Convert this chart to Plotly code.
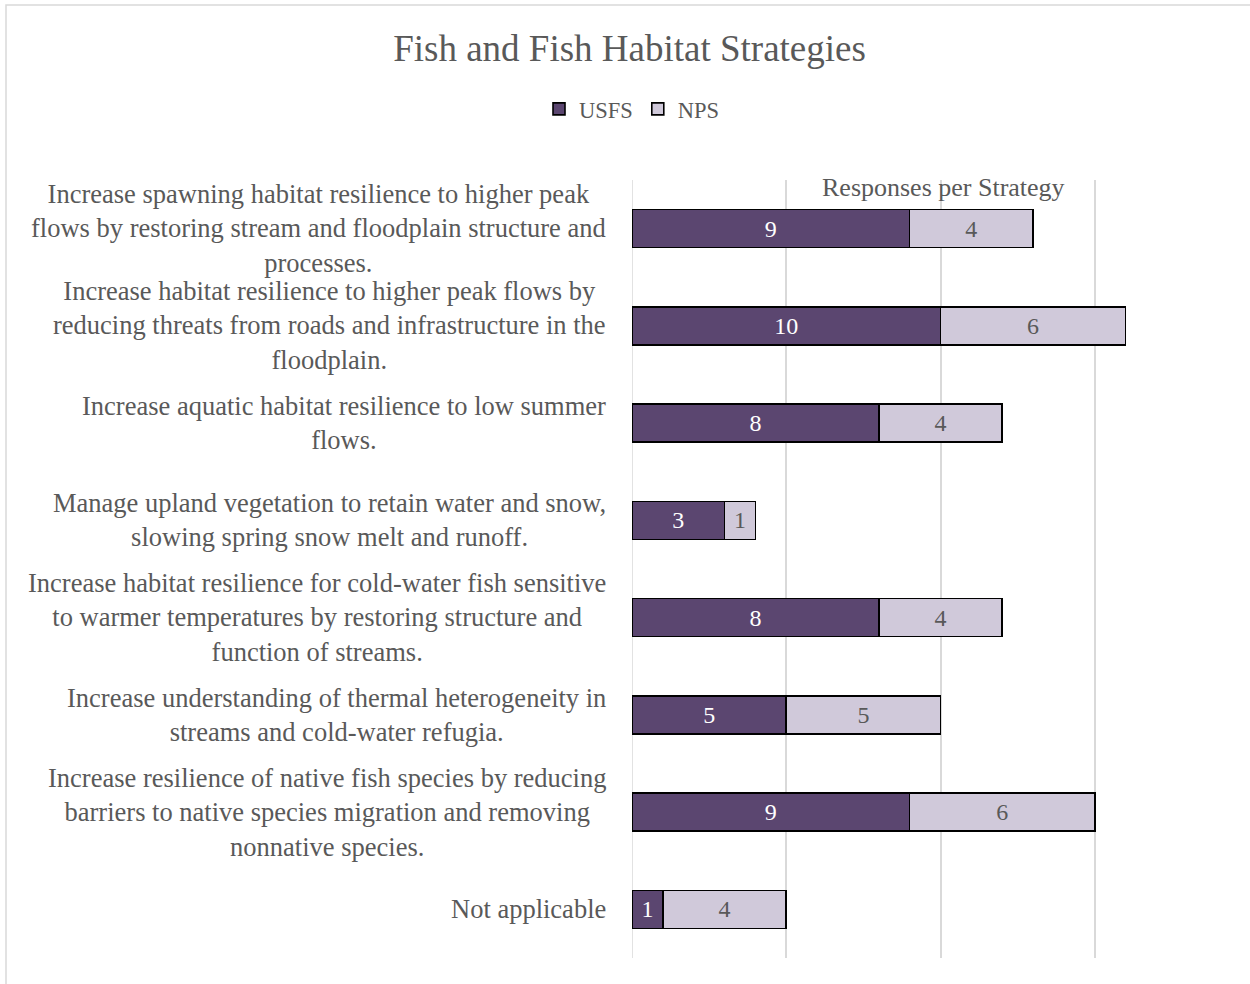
import plotly.graph_objects as go

# Strategy labels (top to bottom) and response counts per agency
strategies = [
    "Increase spawning habitat resilience to higher peak<br>flows by restoring stream and floodplain structure and<br>processes.",
    "Increase habitat resilience to higher peak flows by<br>reducing threats from roads and infrastructure in the<br>floodplain.",
    "Increase aquatic habitat resilience to low summer<br>flows.",
    "Manage upland vegetation to retain water and snow,<br>slowing spring snow melt and runoff.",
    "Increase habitat resilience for cold-water fish sensitive<br>to warmer temperatures by restoring structure and<br>function of streams.",
    "Increase understanding of thermal heterogeneity in<br>streams and cold-water refugia.",
    "Increase resilience of native fish species by reducing<br>barriers to native species migration and removing<br>nonnative species.",
    "Not applicable",
]
usfs = [9, 10, 8, 3, 8, 5, 9, 1]
nps = [4, 6, 4, 1, 4, 5, 6, 4]

FONT = "Liberation Serif"
GREY = "#595959"
USFS_COLOR = "#5B4670"
NPS_COLOR = "#D0C9DA"

cat_ids = list(range(len(strategies)))

fig = go.Figure()
fig.add_trace(go.Bar(
    name="USFS", y=cat_ids, x=usfs, orientation="h",
    marker=dict(color=USFS_COLOR, line=dict(color="#000000", width=1.6)),
    text=usfs, textposition="inside", insidetextanchor="middle",
    textfont=dict(family=FONT, size=24, color="#FFFFFF"),
    constraintext="none", cliponaxis=False,
))
fig.add_trace(go.Bar(
    name="NPS", y=cat_ids, x=nps, orientation="h",
    marker=dict(color=NPS_COLOR, line=dict(color="#000000", width=1.6)),
    text=nps, textposition="inside", insidetextanchor="middle",
    textfont=dict(family=FONT, size=24, color=GREY),
    constraintext="none", cliponaxis=False,
))

# Category labels: centred multi-line text right-aligned against the plot
annotations = []
for i, s in enumerate(strategies):
    annotations.append(dict(
        x=-0.039, xref="paper", y=i, yref="y",
        text=s, showarrow=False, xanchor="right", yanchor="middle",
        align="center", font=dict(family=FONT, size=26.5, color=GREY),
    ))
# Axis title placed at the top of the value axis
annotations.append(dict(
    x=(943 - 632) / 617, xref="paper", y=0.991, yref="paper",
    text="Responses per Strategy", showarrow=False,
    xanchor="center", yanchor="middle",
    font=dict(family=FONT, size=26, color=GREY),
))

fig.update_layout(
    width=1250, height=984,
    margin=dict(l=632, r=1, t=180, b=26),
    barmode="stack", bargap=0.61,
    plot_bgcolor="#FFFFFF", paper_bgcolor="#FFFFFF",
    title=dict(
        text="Fish and Fish Habitat Strategies",
        x=629.5 / 1250, xref="container", xanchor="center",
        y=1 - 48 / 984, yref="container", yanchor="middle",
        font=dict(family=FONT, size=37, color=GREY),
    ),
    legend=dict(
        orientation="h", x=0.0, xanchor="center",
        y=1.091, yanchor="middle",
        font=dict(family=FONT, size=22.5, color=GREY),
        itemwidth=30, traceorder="normal",
    ),
    xaxis=dict(
        range=[0, 20], dtick=5, showticklabels=False,
        showgrid=True, gridcolor="#D9D9D9", gridwidth=1.5,
        zeroline=False, showline=False, ticks="",
    ),
    yaxis=dict(
        range=[len(strategies) - 0.5, -0.5],
        showticklabels=False, showgrid=False, zeroline=False,
        showline=False, ticks="",
    ),
    annotations=annotations,
    shapes=[dict(
        type="rect", xref="paper", yref="paper",
        x0=(6 - 632) / 617, x1=(1262 - 632) / 617,
        y0=-0.2, y1=(958 - 5) / 778,
        line=dict(color="#D9D9D9", width=1.5), layer="below",
    ), dict(
        type="line", xref="x", yref="paper",
        x0=0, x1=0, y0=0, y1=1,
        line=dict(color="#D9D9D9", width=1.5), layer="below",
    )],
)

fig.write_html("out.html")
